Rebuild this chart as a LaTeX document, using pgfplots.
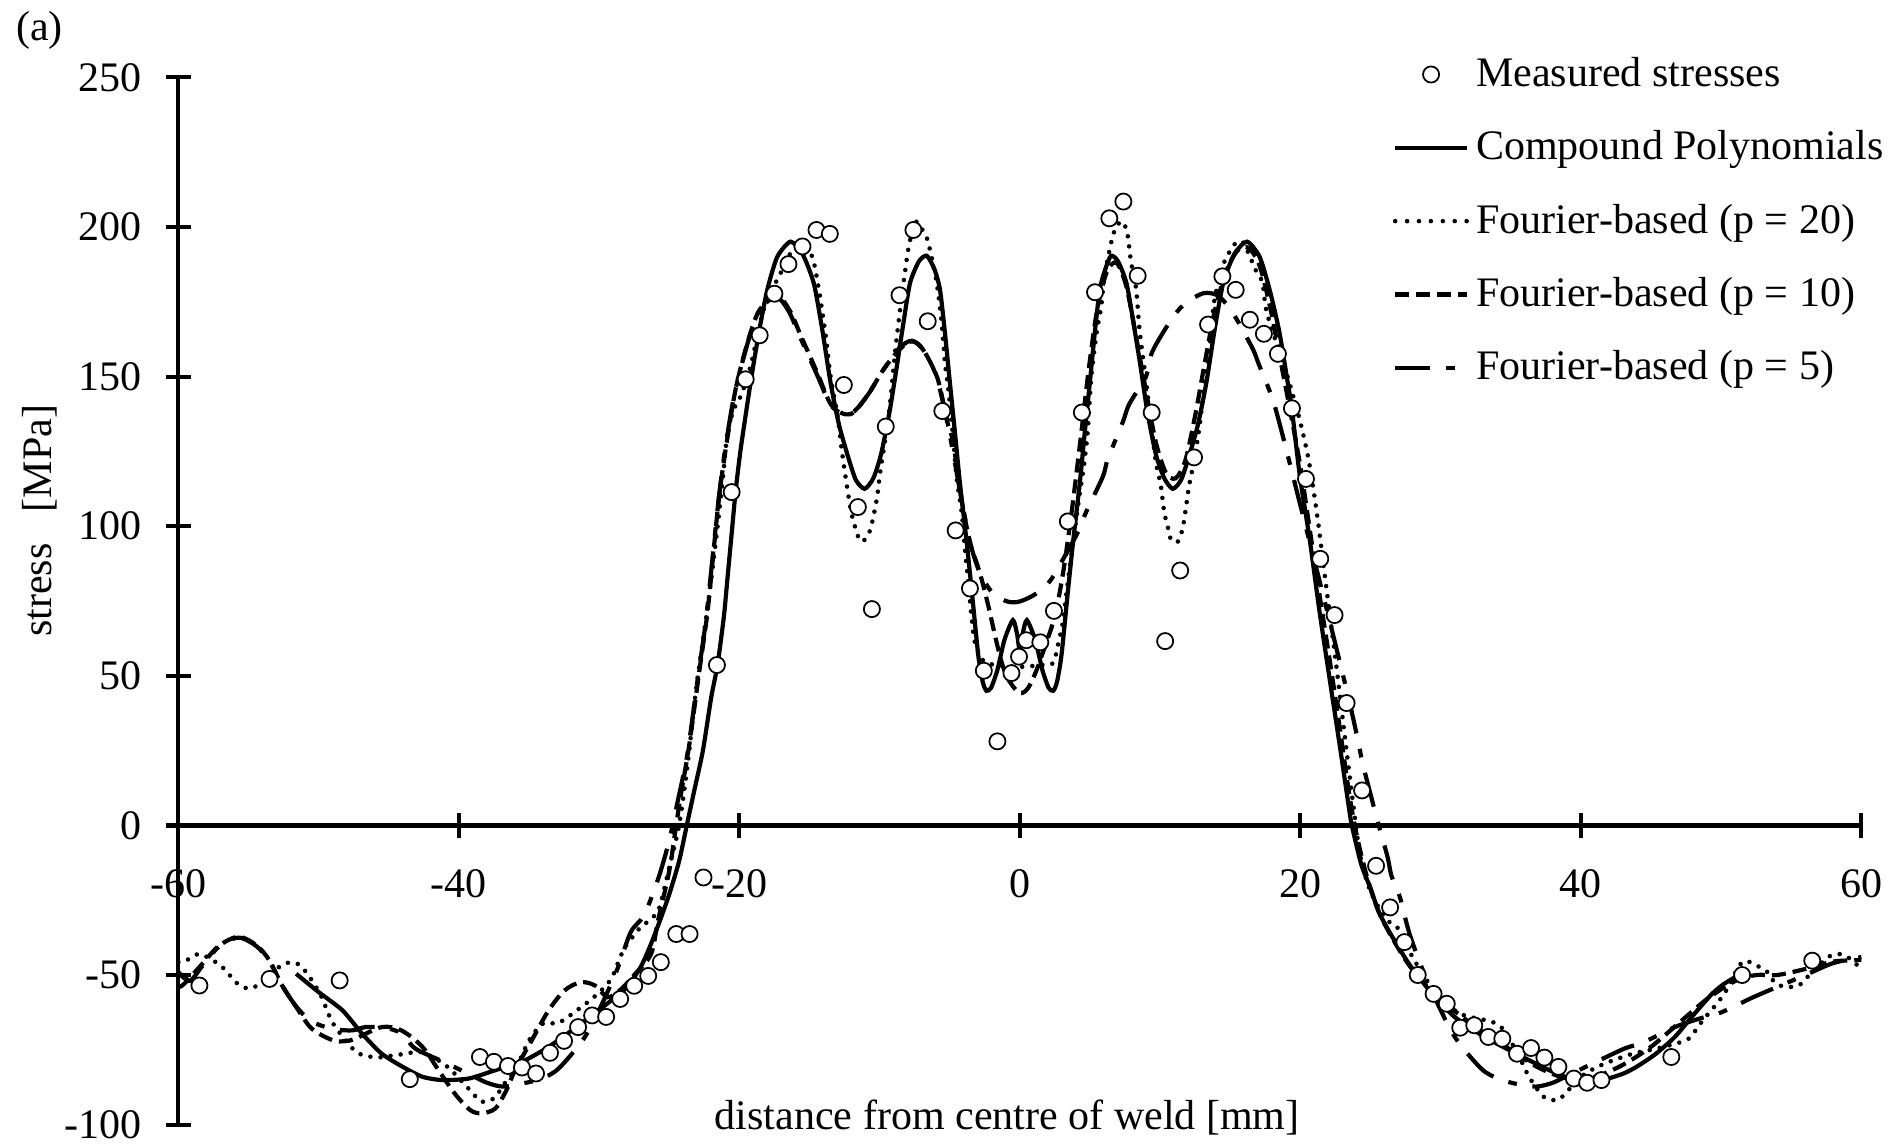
\documentclass[border=0pt]{standalone}
\usepackage{fontspec}
\setmainfont{Liberation Serif}
\usepackage{pgfplots}
\pgfplotsset{compat=1.18}

\begin{document}
\begin{tikzpicture}
\begin{axis}[
  scale only axis, width=16.89cm, height=10.51cm,
  xmin=-60, xmax=60, ymin=-100, ymax=250,
  axis x line*=middle, axis y line*=left,
  hide obscured x ticks=false, hide obscured y ticks=false,
  xtick={-60,-40,...,60}, ytick={-100,-50,...,250},
  tick align=center, major tick length=2.5mm,
  tick style={black, line width=1.2pt},
  axis line style={black, line width=1.2pt},
  tick label style={font=\fontsize{12}{14}\selectfont},
  /pgf/number format/assume math mode=true,
  xticklabel style={anchor=north, yshift=-1.9mm},
  yticklabel style={anchor=east, xshift=-1.2mm, inner ysep=1pt},
  every axis x label/.style={at={(axis cs:-0.9,-97.5)}, anchor=center, font=\fontsize{12}{14}\selectfont},
  every axis y label/.style={at={(axis cs:-69.88,101.8)}, rotate=90, anchor=center, font=\fontsize{12}{14}\selectfont},
  xlabel={distance from centre of weld [mm]},
  ylabel={stress\ \ \ [MPa]},
  clip=false,
  legend cell align=left,
  legend image code/.code={\draw[mark repeat=2,mark phase=2,#1] plot coordinates {(0cm,0cm) (0.36cm,0cm) (0.72cm,0cm)};},
  legend style={draw=none, fill=none, at={(axis cs:26.55,259.3)}, anchor=north west,
    font=\fontsize{12}{14}\selectfont, row sep=2.5mm, inner sep=0pt},
]

% legend entries first, curves drawn below the measured circles
\addlegendimage{only marks, mark=*, mark size=2.3pt, mark options={fill=white, draw=black, line width=0.5pt}}
\addlegendentry{Measured stresses}
\addlegendimage{black, line width=1.2pt}
\addlegendentry{Compound Polynomials}
\addlegendimage{black, line width=1.3pt, line cap=round, dash pattern=on 0pt off 3.4pt}
\addlegendentry{Fourier-based (p = 20)}
\addlegendimage{black, line width=1.2pt, dash pattern=on 4pt off 2pt}
\addlegendentry{Fourier-based (p = 10)}
\addlegendimage{black, line width=1.2pt, dash pattern=on 10pt off 4.5pt on 2.5pt off 4.5pt}
\addlegendentry{Fourier-based (p = 5)}

% Fourier-based (p = 5)
\addplot[black, line width=1.2pt, dash pattern=on 10pt off 4.5pt on 2.5pt off 4.5pt, smooth, tension=0.5, forget plot]
coordinates {
(-60,-49) (-59.2,-52) (-58.3,-47) (-57.1,-40.5) (-55.7,-37.5) (-54.4,-40.5) (-53.5,-45.5)
(-52.6,-53.5) (-51.6,-60.5) (-50.5,-65.5) (-49.0,-68) (-47.6,-68.5) (-46.66,-67.4) (-45.3,-67.6)
(-44.1,-69.5) (-43.1,-74.6) (-41.1,-79) (-39.1,-83.5) (-38.0,-86) (-36.8,-87.3) (-35.2,-86)
(-34.1,-84.6) (-32.9,-81.3) (-31.1,-71.3) (-29.9,-60.7) (-28.7,-48) (-27.75,-35.7) (-26.8,-30)
(-25.8,-18) (-25.0,-5) (-24.4,8) (-23.7,24) (-23.0,48) (-22.4,68) (-21.9,90) (-21.5,108)
(-21.1,123) (-20.4,143) (-19.6,158) (-18.7,171) (-17.4,176.5) (-16.5,172) (-15.7,163.5)
(-14.5,151) (-13.4,140) (-12.1,137.5) (-10.9,143.5) (-9.7,152.5) (-8.6,159.5) (-7.7,162)
(-6.9,159) (-5.95,150) (-5.1,133) (-4.2,110) (-3.57,95) (-2.9,85) (-2.0,78) (-1.0,75)
(-0.13,74.7) (1.0,77) (2.1,81.4) (2.83,86.9) (4.14,98) (4.72,104.7) (5.9,116.4) (6.27,122.4)
(7.33,134.7) (7.8,140.8) (9.0,150.2) (9.46,158.5) (10.88,169.6) (11.83,174.6) (13.13,177.9)
(14.2,176.8) (15.26,170.7) (16.57,159.6) (17.04,154.1) (18.1,141.3) (19.17,122.4) (20.0,107)
(21.0,88.5) (22.0,70) (23.0,51) (23.55,40.3) (24.15,27.5) (24.43,20.9) (25.1,8.7) (25.47,2)
(26.2,-10.2) (26.5,-16.9) (27.1,-24) (27.75,-35.7) (28.7,-48) (29.9,-60.7) (31.1,-71.3)
(32.9,-81.3) (34.1,-84.6) (35.5,-86.5) (36.8,-87.3) (38.0,-86) (39.1,-83.5) (41.1,-79)
(43.1,-74.6) (44.5,-72.4) (46.7,-67.4) (48.5,-64.5) (50.0,-62.5) (52.3,-57.4) (54.5,-53)
(56.2,-49.6) (58.0,-46) (60.0,-44)
};

% Fourier-based (p = 10)
\addplot[black, line width=1.2pt, dash pattern=on 4pt off 2pt, smooth, tension=0.5, forget plot]
coordinates {
(-60,-54) (-59.6,-53) (-58.3,-46.3) (-57.1,-40.2) (-55.7,-37.2) (-54.4,-40.2) (-53.5,-45.2)
(-52.6,-53.5) (-51.6,-60.7) (-50.5,-67.9) (-49.0,-71.8) (-48.1,-72.1) (-47.4,-71.3) (-45.5,-67.4)
(-44.1,-68.5) (-42.6,-74) (-41.45,-81.8) (-40.3,-89.6) (-39.2,-95.1) (-38.4,-96.2) (-37.4,-94.6)
(-36.6,-88.4) (-36.0,-81.8) (-34.8,-71.8) (-33.6,-61.8) (-32.45,-55.1) (-31.3,-52.4) (-30.3,-53.5)
(-29.4,-57.4) (-28.5,-55) (-27.5,-50) (-26.3,-43) (-25.8,-31.8) (-25.0,-15.2) (-24.5,0.3)
(-24.17,10.3) (-23.57,27) (-22.86,51.4) (-22.27,71.4) (-21.8,93.6) (-21.44,110.2) (-21.0,125)
(-20.3,145) (-19.5,160) (-18.6,172) (-17.3,176.8) (-16.4,172) (-15.6,163.5) (-14.45,151.3)
(-13.4,140.2) (-12.1,137.4) (-10.9,143.5) (-9.72,152.4) (-8.6,159) (-7.7,161.8) (-6.9,159)
(-5.93,150.2) (-5.46,141.3) (-5.1,133.5) (-4.75,128) (-4.2,110) (-3.57,94.7) (-3.1,88)
(-2.74,82.5) (-2.26,73.6) (-1.67,61.4) (-1.2,53) (-0.72,48) (0,44.2) (0.6,46) (1.2,52)
(1.8,60) (2.5,70) (3.1,85) (3.7,105) (4.3,128) (4.9,152) (5.5,172) (6.2,185) (6.9,188)
(7.6,180) (8.3,163) (9.0,145) (9.7,128) (10.4,118) (11.1,116) (11.8,122) (12.5,137)
(13.2,155) (13.9,172) (14.7,185) (15.5,192) (16.3,193) (17.1,187) (17.9,172) (18.6,155)
(19.3,138) (20.0,120) (20.7,98) (21.4,76) (22.1,55) (22.8,33) (23.5,10) (24.1,-5) (24.8,-18)
(25.6,-29) (26.6,-38) (27.8,-47) (29.3,-55) (31,-62) (33,-69) (35,-75) (37,-81) (39,-84.5)
(41,-84) (43,-80) (45,-74) (47,-66) (49,-58) (51,-52) (52.5,-50) (54,-50) (56,-48)
(58,-45.5) (60,-45)
};

% Fourier-based (p = 20)
\addplot[black, line width=1.3pt, line cap=round, dash pattern=on 0pt off 2.9pt, smooth, tension=0.5, forget plot]
coordinates {
(-60,-45.7) (-59.45,-45.2) (-58.5,-43) (-57,-46.8) (-55.7,-53.2) (-54.7,-54.3) (-53.5,-50)
(-52.5,-46.3) (-51.6,-46) (-50.9,-49) (-49.9,-56.3) (-49.15,-64.6) (-48.6,-68.7) (-47.4,-75.4)
(-46.55,-77.1) (-45.5,-77.5) (-44.65,-76.8) (-43.7,-76.3) (-42.9,-75.5) (-41.9,-77.4)
(-41.1,-79.6) (-40.4,-82.5) (-39.1,-89) (-38.4,-92.3) (-37.5,-91.2) (-36.7,-86) (-36.0,-81.8)
(-35.06,-72.4) (-34.5,-68.5) (-33.9,-66) (-32.9,-66) (-31.5,-61.5) (-30.4,-57.5) (-29.4,-53)
(-28.9,-49) (-28.55,-44.6) (-28.15,-40.7) (-27.6,-37.2) (-27.0,-33.8) (-26.3,-31.3) (-25.7,-27.4)
(-25.0,-14) (-24.3,0) (-23.7,20) (-23.1,45) (-22.5,65) (-22.15,77) (-21.6,98) (-21.2,115)
(-20.85,131) (-20.4,139) (-19.9,143.5) (-19.2,153.5) (-18.25,172.6) (-17.06,184.6) (-16.0,193.5)
(-14.93,191.3) (-14.45,182.4) (-13.87,164.6) (-13.5,150.2) (-13.0,136.9) (-12.68,124.7)
(-12.3,112.5) (-11.97,103.6) (-11.4,95.2) (-10.9,96.4) (-10.6,100) (-10.2,109.1) (-9.96,118)
(-9.6,129) (-9.25,141.3) (-8.9,158) (-8.54,172.4) (-8.2,184.6) (-7.94,192.9) (-7.47,201.8)
(-6.88,198.5) (-6.52,194.6) (-5.93,181.3) (-5.58,168) (-5.34,154.6) (-5.1,145.8) (-4.75,129.1)
(-4.5,115.8) (-4.15,104.7) (-3.92,92.5) (-3.68,81.4) (-3.45,70) (-3.2,61) (-2.6,55) (-1.67,53.6)
(0,53) (1.53,53.6) (2.36,54.2) (2.7,60) (3.07,68) (3.3,76.9) (3.66,90) (4.25,110.2) (4.6,121.3)
(4.85,132.4) (5.08,149.1) (5.44,163.5) (5.8,173.5) (6.03,183.5) (6.5,194.6) (6.86,200)
(7.33,201.8) (7.68,197.4) (7.92,188.5) (8.28,179.6) (8.51,166.8) (8.75,157.4) (8.99,149.1)
(9.22,139.1) (9.46,130.2) (9.7,121.3) (10.05,113.6) (10.29,104.7) (10.53,100.2) (10.76,95.7)
(11.24,94.7) (11.6,99.1) (11.83,105.8) (12.07,113.6) (12.4,121.3) (12.78,132.4) (13.13,145.8)
(13.5,159) (13.84,174.6) (14.2,182.4) (14.55,188) (14.9,191.3) (15.38,194.6) (15.9,195)
(16.45,189.6) (16.8,185.7) (17.3,181.3) (17.63,171) (18.93,152.4) (19.4,145) (20.0,134.7)
(20.6,121.9) (21.2,103.6) (21.8,81.4) (22.5,55.8) (23.1,32.5) (23.8,5.9) (24.3,-10.8)
(25.0,-22) (26.1,-31.3) (26.9,-34) (28.0,-44) (29.2,-53) (30.5,-60) (31.7,-63.5) (33.7,-65.7)
(34.6,-69) (35.85,-79.6) (36.3,-84) (37.35,-90.7) (38.3,-91.8) (38.9,-89.6) (40.0,-84)
(41.5,-80) (43.7,-76.3) (45.5,-74.5) (47.5,-71.8) (48.1,-69) (48.7,-65.1) (49.5,-60.7)
(50.3,-55.7) (51.5,-45.7) (52.5,-46.8) (53.3,-49) (53.9,-52.9) (54.8,-54) (55.6,-53.3)
(56.25,-50.2) (57,-46.7) (57.7,-43.8) (58.5,-43) (59.4,-45.2) (60,-48.5)
};

% Compound Polynomials
\addplot[black, line width=1.2pt, smooth, tension=0.4, forget plot]
coordinates {
(-51.6,-49.6) (-50.0,-55.7) (-48.3,-61.8) (-46.9,-69.6) (-45.5,-76.3) (-44.0,-80.7) (-42.6,-84.0)
(-41.2,-85.1) (-39.3,-84.6) (-37.4,-81.8) (-35.5,-79.0) (-33.6,-74.0) (-31.3,-66.3) (-29.0,-58.0)
(-28.0,-54.0) (-27.0,-47.0) (-26.3,-39.6) (-25.6,-31.0) (-25.0,-23.0) (-24.3,-12.0) (-23.75,0)
(-23.2,12) (-22.6,25) (-22.0,43) (-21.56,53.6) (-21.1,70) (-20.85,82.5) (-20.5,100)
(-20.26,112) (-19.9,126) (-19.2,148) (-18.6,165) (-18.0,179.2) (-17.3,190) (-16.35,195.1)
(-15.5,191) (-14.7,181.3) (-14.1,166) (-13.5,148) (-12.9,134) (-12.3,124) (-11.7,115.5)
(-11.07,112.5) (-10.45,116) (-9.9,124) (-9.3,138) (-8.77,153.5) (-8.3,168) (-7.83,181.3)
(-7.2,188.5) (-6.64,190.4) (-6.1,186) (-5.7,179.2) (-5.35,165) (-4.99,148) (-4.6,130)
(-4.28,114.7) (-3.8,95) (-3.4,77) (-2.97,57) (-2.65,48) (-2.38,45) (-2.05,46) (-1.6,52)
(-1.1,62) (-0.5,68.6) (-0.2,64) (0,58) (0.2,64) (0.5,68.6) (1.1,62) (1.6,52) (2.05,46)
(2.38,45) (2.65,48) (2.97,57) (3.4,77) (3.8,95) (4.28,114.7) (4.6,130) (4.99,148) (5.35,165)
(5.7,179.2) (6.1,186) (6.5,190.4) (7.0,188.5) (7.6,181.3) (8.1,168) (8.6,153.5) (9.1,138)
(9.7,124) (10.3,116) (10.9,112.5) (11.5,115.5) (12.1,124) (12.7,134) (13.3,148) (13.9,166)
(14.5,181.3) (15.3,191) (16.2,195.1) (17.1,190) (17.8,179.2) (18.5,165) (19.1,148) (19.4,139)
(19.96,116.9) (20.66,95.8) (21.37,71.4) (22.08,49.2) (22.8,27) (23.5,4.8) (23.67,0)
(24.34,-13) (25.0,-21) (25.6,-29) (26.4,-36) (27.75,-46.3) (29.4,-56.3) (31.0,-64)
(33.15,-70.7) (35.85,-77.4) (38.55,-83.5) (40,-85) (41.5,-85.1) (43.0,-83) (43.96,-80.7)
(45.3,-76.5) (46.7,-70.7) (48.0,-63.5) (49.35,-56.3) (50.2,-53) (51.0,-50.7)
};

% Measured stresses
\addplot[only marks, mark=*, mark size=2.3pt, mark options={fill=white, draw=black, line width=0.5pt}, forget plot]
coordinates {
(-58.5,-53.5) (-53.5,-51.3) (-48.5,-51.8) (-43.5,-84.8) (-38.5,-77.4) (-37.5,-79) (-36.5,-80.4)
(-35.5,-80.9) (-34.5,-82.9) (-33.5,-76) (-32.5,-72) (-31.5,-67.4) (-30.5,-63.5) (-29.5,-64)
(-28.5,-58) (-27.5,-53.6) (-26.5,-50.3) (-25.6,-45.7) (-24.5,-36.3) (-23.55,-36.3) (-22.56,-17.4)
(-21.6,53.6) (-20.55,111.4) (-19.55,149.1) (-18.55,163.8) (-17.5,177.7) (-16.5,187.6)
(-15.5,193.5) (-14.5,199) (-13.55,197.7) (-12.55,147.2) (-11.55,106.4) (-10.55,72.3)
(-9.56,133.3) (-8.58,177.2) (-7.59,199) (-6.57,168.5) (-5.53,138.5) (-4.58,98.6) (-3.56,79.2)
(-2.57,51.7) (-1.6,28.1) (-0.6,50.9) (-0.06,56.4) (0.46,61.9) (1.46,61.2) (2.43,71.7)
(3.42,101.6) (4.42,138) (5.36,178.2) (6.38,202.9) (7.38,208.5) (8.4,183.7) (9.4,138)
(10.36,61.6) (11.43,85.2) (12.42,123) (13.42,167.4) (14.44,183.5) (15.39,179) (16.4,169)
(17.4,164.3) (18.4,157.6) (19.4,139.4) (20.4,115.8) (21.42,89.1) (22.44,70.3) (23.3,40.9)
(24.4,11.7) (25.4,-13.5) (26.4,-27.4) (27.42,-39) (28.37,-50) (29.5,-56.3) (30.44,-59.6)
(31.4,-67.6) (32.4,-66.8) (33.4,-70.7) (34.4,-71.3) (35.45,-76.3) (36.45,-74.4) (37.4,-77.6)
(38.4,-80.7) (39.5,-84.6) (40.45,-86) (41.47,-85.1) (46.45,-77.4) (51.5,-50) (56.5,-45.2)
};

\node[font=\fontsize{12}{14}\selectfont] at (axis cs:-69.9,265.6) {(a)};
\path (axis cs:-72.72,-106.3) rectangle (axis cs:61.85,275.6);
\end{axis}
\end{tikzpicture}
\end{document}
